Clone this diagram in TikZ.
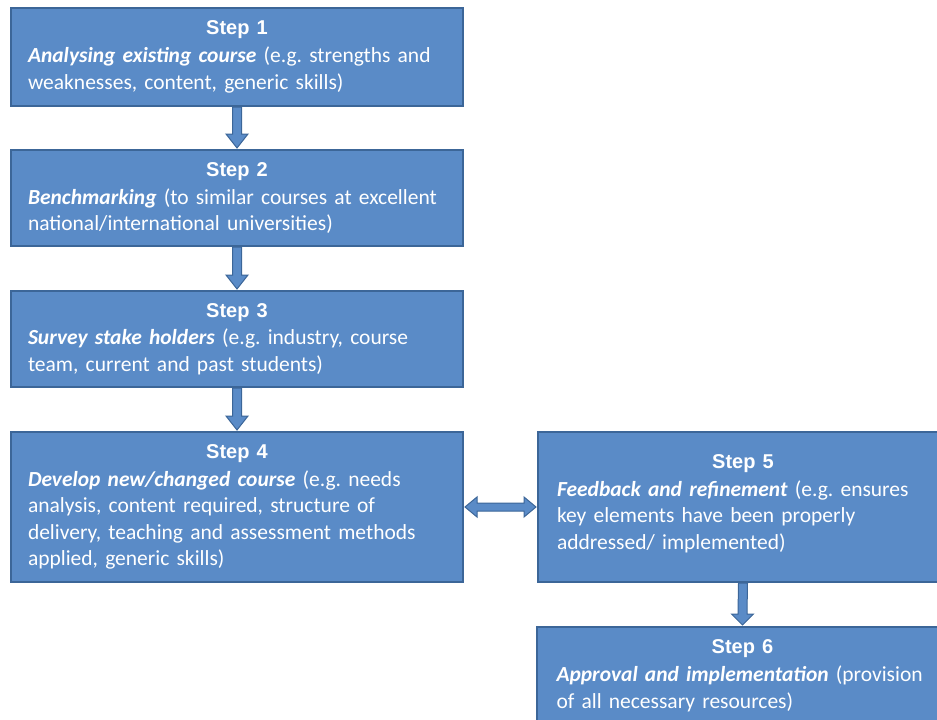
\documentclass[tikz,border=0pt]{standalone}
\usepackage{fontspec}
\setmainfont{Carlito}
\newfontfamily\stepfamily{Liberation Sans}
\usetikzlibrary{calc}
\frenchspacing
\definecolor{boxfill}{RGB}{90,139,199}
\definecolor{boxline}{RGB}{60,102,152}
\newcommand{\steptitle}[1]{\noindent\makebox[\hsize][c]{\stepfamily\bfseries\fontsize{20}{24}\selectfont #1}\\[1.1pt]}
\newcommand{\hl}[1]{\textbf{\textit{#1}}}
\begin{document}
\begin{tikzpicture}[x=1pt,y=-1pt,
  stepbox/.style={draw=boxline, line width=2pt, fill=boxfill, rectangle, inner sep=0pt},
  steptext/.style={text=white, inner sep=0pt, align=left, font=\fontsize{21.5}{26.6}\selectfont},
  arr/.style={draw=boxline, line width=1pt, fill=boxfill, line join=miter}]
\useasboundingbox (0,0) rectangle (937,720);
\clip (0,0) rectangle (937,720);
% boxes
\node[stepbox, steptext, minimum width=452, minimum height=98, text width=418] (s1) at (237,57)
 {\steptitle{Step 1}\hl{Analysing existing course} (e.g. strengths and\\ weaknesses, content, generic skills)};
\node[stepbox, steptext, minimum width=452, minimum height=96, text width=418] (s2) at (237,198)
 {\steptitle{Step 2}\hl{Benchmarking} (to similar courses at excellent\\ national/international universities)};
\node[stepbox, steptext, minimum width=452, minimum height=96, text width=418] (s3) at (237,339)
 {\steptitle{Step 3}\hl{Survey stake holders} (e.g. industry, course\\ team, current and past students)};
\node[stepbox, steptext, minimum width=452, minimum height=150, text width=418] (s4) at (237,507)
 {\steptitle{Step 4}\hl{Develop new/changed course} (e.g. needs\\ analysis, content required, structure of\\ delivery, teaching and assessment methods\\ applied, generic skills)};
\node[stepbox, steptext, minimum width=410, minimum height=150, text width=372] (s5) at (743,507)
 {\steptitle{Step 5}\hl{Feedback and refinement} (e.g. ensures\\ key elements have been properly\\ addressed/ implemented)\rule[-10pt]{0pt}{10pt}};
\node[stepbox, minimum width=411, minimum height=126] (s6) at (742.5,690) {};
\node[steptext, text width=372, anchor=north] (t6) at (742.5,639.7)
 {\steptitle{Step 6}\hl{Approval and implementation} (provision\\ of all necessary resources)};
% vertical arrows
\foreach \a/\b/\h in {s1/s2/15, s2/s3/15, s3/s4/15, s5/s6/12}{
  \path[arr] ($(\a.south)+(-4.5,0)$) -- ($(\b.north)+(-4.5,-\h)$) -- ($(\b.north)+(-11,-\h)$)
    -- ($(\b.north)+(0,-1)$) -- ($(\b.north)+(11,-\h)$) -- ($(\b.north)+(4.5,-\h)$)
    -- ($(\a.south)+(4.5,0)$) -- cycle;
}
% double arrow between step 4 and step 5
\path[arr] ($(s4.east)+(1,0)$) -- ($(s4.east)+(13,-10)$) -- ($(s4.east)+(13,-4)$)
  -- ($(s5.west)+(-13,-4)$) -- ($(s5.west)+(-13,-10)$) -- ($(s5.west)+(-1,0)$)
  -- ($(s5.west)+(-13,10)$) -- ($(s5.west)+(-13,4)$) -- ($(s4.east)+(13,4)$)
  -- ($(s4.east)+(13,10)$) -- cycle;
\end{tikzpicture}
\end{document}
